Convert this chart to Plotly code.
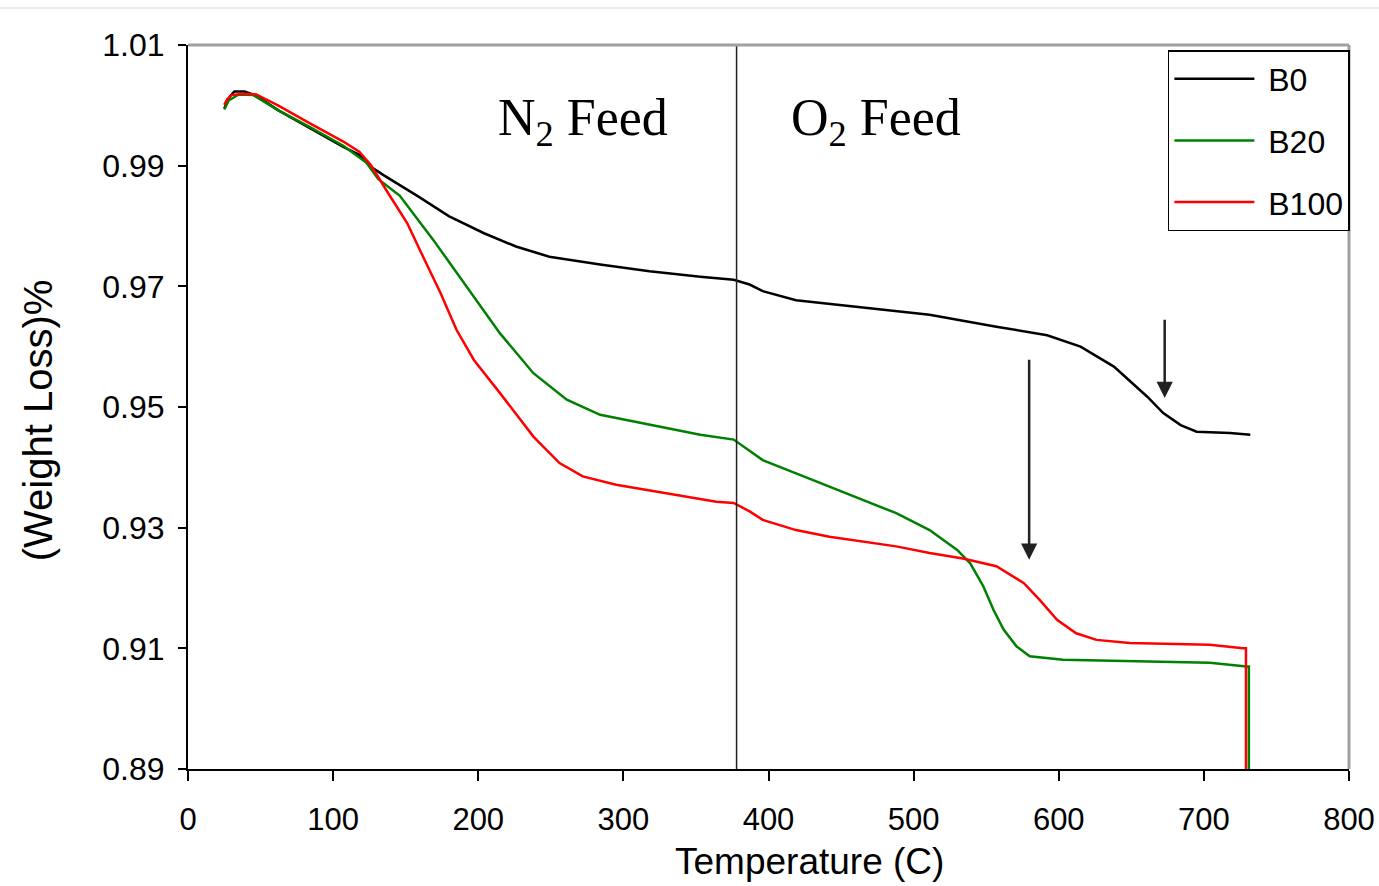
import plotly.graph_objects as go

# ---- data ----
b0_x = [25, 29, 32, 39, 47, 62, 84, 107, 118, 126, 135, 158, 180, 204, 226, 249, 284, 318, 353, 376,
        387, 396, 419, 442, 465, 511, 557, 592, 615, 638, 661, 672, 684, 695, 718, 732]
b0_y = [0.9995, 1.0015, 1.0023, 1.0023, 1.0016, 0.9992, 0.9962, 0.9931, 0.9918, 0.9898, 0.9884,
        0.9850, 0.9816, 0.9788, 0.9766, 0.9749, 0.9736, 0.9725, 0.9716, 0.9711,
        0.9703, 0.9692, 0.9677, 0.9671, 0.9666, 0.9653, 0.9633, 0.9619, 0.9600, 0.9567,
        0.9517, 0.9490, 0.9470, 0.9459, 0.9457, 0.9454]

b20_x = [25, 28, 35, 45, 62, 84, 107, 123, 131, 146, 169, 192, 215, 238, 261, 284, 307, 330, 353,
         376, 387, 396, 419, 442, 465, 488, 511, 530, 539, 548, 555, 562, 571, 580, 603, 649,
         704, 729.5, 731, 731]
b20_y = [0.9993, 1.0008, 1.0018, 1.0017, 0.9992, 0.9964, 0.9933, 0.9905, 0.9878, 0.9850, 0.9777,
         0.9700, 0.9622, 0.9556, 0.9512, 0.9487, 0.9476, 0.9465, 0.9454, 0.9446, 0.9427,
         0.9412, 0.9390, 0.9368, 0.9346, 0.9324, 0.9296, 0.9263, 0.9241, 0.9203, 0.9164,
         0.9131, 0.9103, 0.9087, 0.9081, 0.9079, 0.9076, 0.9070, 0.9070, 0.889]

b100_x = [25, 27, 30, 38, 47, 62, 84, 107, 118, 126, 137, 151, 162, 174, 185, 197, 215, 238, 256,
          272, 295, 330, 364, 376, 387, 396, 419, 442, 465, 488, 511, 534, 557, 576, 587, 599,
          612, 626, 649, 704, 727, 729, 729]
b100_y = [1.0001, 1.0010, 1.0017, 1.0019, 1.0018, 1.0000, 0.9970, 0.9940, 0.9923, 0.9901, 0.9858,
          0.9805, 0.9749, 0.9689, 0.9628, 0.9578, 0.9523, 0.9451, 0.9407, 0.9385, 0.9371,
          0.9357, 0.9343, 0.9341, 0.9327, 0.9313, 0.9296, 0.9285, 0.9277, 0.9269, 0.9258,
          0.9249, 0.9236, 0.9208, 0.9180, 0.9147, 0.9125, 0.9114, 0.9109, 0.9106, 0.9100,
          0.9100, 0.889]

x_ticks = [0, 100, 200, 300, 400, 500, 600, 700, 800]
y_ticks = [0.89, 0.91, 0.93, 0.95, 0.97, 0.99, 1.01]
y_tick_labels = ["0.89", "0.91", "0.93", "0.95", "0.97", "0.99", "1.01"]
feed_switch = 378
arrow_b0 = (673, 0.9647, 0.9515)
arrow_b20 = (579.6, 0.9581, 0.9247)

SANS = "Liberation Sans, Arial, sans-serif"
SERIF = "Liberation Serif, Times New Roman, serif"

fig = go.Figure()
fig.add_trace(go.Scatter(x=b0_x, y=b0_y, mode="lines", name=" B0",
                         line=dict(color="#000000", width=2.5), legendgroup="a"))
fig.add_trace(go.Scatter(x=b20_x, y=b20_y, mode="lines", name=" B20",
                         line=dict(color="#008000", width=2.5), legendgroup="b"))
fig.add_trace(go.Scatter(x=b100_x, y=b100_y, mode="lines", name=" B100",
                         line=dict(color="#ff0000", width=2.5), legendgroup="c"))

# vertical feed-switch line
fig.add_shape(type="line", x0=feed_switch, x1=feed_switch, y0=0, y1=1, xref="x", yref="paper",
              line=dict(color="#222222", width=1.5))
# gray top / right frame
fig.add_shape(type="line", x0=0, x1=1, y0=1, y1=1, xref="paper", yref="paper",
              line=dict(color="#a0a0a0", width=3))
fig.add_shape(type="line", x0=1, x1=1, y0=0, y1=1, xref="paper", yref="paper",
              line=dict(color="#a0a0a0", width=3))
# faint page line at the very top
fig.add_shape(type="line", x0=-0.162, x1=1.026, y0=1.051, y1=1.051, xref="paper", yref="paper",
              line=dict(color="#e4e4e4", width=1.5))

annotations = [
    dict(x=272, y=0.9973, xref="x", yref="y", text="N<sub>2</sub> Feed", showarrow=False,
         font=dict(family=SERIF, size=52, color="#000")),
    dict(x=474, y=0.9973, xref="x", yref="y", text="O<sub>2</sub> Feed", showarrow=False,
         font=dict(family=SERIF, size=52, color="#000")),
    dict(x=arrow_b0[0], y=arrow_b0[2], ax=arrow_b0[0], ay=arrow_b0[1], xref="x", yref="y",
         axref="x", ayref="y", text="", showarrow=True, arrowhead=2, arrowsize=1.3,
         arrowwidth=2.5, arrowcolor="#222222"),
    dict(x=arrow_b20[0], y=arrow_b20[2], ax=arrow_b20[0], ay=arrow_b20[1], xref="x", yref="y",
         axref="x", ayref="y", text="", showarrow=True, arrowhead=2, arrowsize=1.3,
         arrowwidth=2.5, arrowcolor="#222222"),
    dict(x=0.535, y=-0.128, xref="paper", yref="paper", text="Temperature (C)", showarrow=False,
         xanchor="center", yanchor="middle", font=dict(family=SANS, size=37, color="#000")),
    dict(x=-0.129, y=0.482, xref="paper", yref="paper", text="(Weight Loss)%", showarrow=False,
         textangle=-90, xanchor="center", yanchor="middle",
         font=dict(family=SANS, size=40, color="#000")),
]

fig.update_layout(
    width=1379, height=886,
    margin=dict(l=188, r=30, t=45, b=117, autoexpand=False),
    paper_bgcolor="white", plot_bgcolor="white",
    font=dict(family=SANS, color="#000"),
    showlegend=True,
    legend=dict(x=0.844, y=0.993, xanchor="left", yanchor="top",
                bgcolor="white", bordercolor="#000", borderwidth=1.5,
                font=dict(family=SANS, size=32, color="#000"),
                itemwidth=80, tracegroupgap=17),
    annotations=annotations,
    xaxis=dict(range=[0, 800], tickvals=x_ticks, showgrid=False, zeroline=False,
               showline=True, linecolor="#000", linewidth=2, ticks="outside", ticklen=10,
               tickwidth=1.5, tickcolor="#000", tickfont=dict(family=SANS, size=31, color="#000"),
               ticklabelstandoff=12, automargin=False, ticklabeloverflow="allow"),
    yaxis=dict(range=[0.89, 1.01], tickvals=y_ticks, ticktext=y_tick_labels, showgrid=False,
               zeroline=False, showline=True, linecolor="#000", linewidth=2, ticks="outside",
               ticklen=8, tickwidth=1.5, tickcolor="#000",
               tickfont=dict(family=SANS, size=32, color="#000"), ticklabelstandoff=7,
               automargin=False, ticklabeloverflow="allow"),
)

fig.write_html("out.html", config={"displayModeBar": False},
               post_script="document.body.style.margin='0';document.body.style.overflow='hidden';")
